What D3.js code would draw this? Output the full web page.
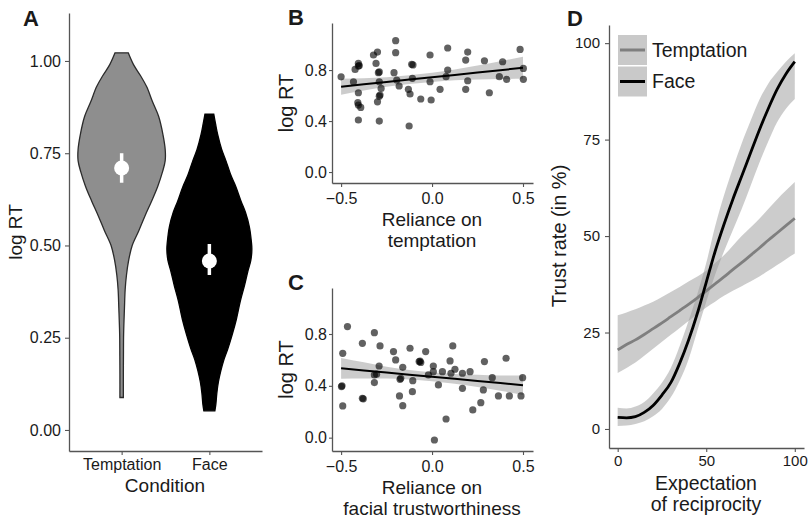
<!DOCTYPE html>
<html>
<head>
<meta charset="utf-8">
<script src="https://cdn.jsdelivr.net/npm/d3@7"></script>
<style>
  body { margin: 0; background: #fff; }
  svg { display: block; font-family: 'Liberation Sans', Arial, sans-serif; }
</style>
</head>
<body>
<svg id="fig" width="811" height="519"></svg>
<script>
// ---------- Panel A: log RT by condition (violins + mean with CI) ----------
const conditions = ["Temptation", "Face"];
const violinTemptationV = [1.022,0.99,0.96,0.93,0.89,0.85,0.80,0.76,0.73,0.70,0.66,0.62,0.58,0.54,0.50,0.46,0.42,0.38,0.33,0.26,0.20,0.15,0.088];
const violinTemptationD = [0.15,0.27,0.43,0.57,0.70,0.84,0.94,0.99,0.99,0.93,0.82,0.68,0.53,0.39,0.24,0.16,0.11,0.08,0.064,0.045,0.041,0.039,0.039];
const violinFaceV = [0.856,0.83,0.80,0.76,0.73,0.69,0.66,0.62,0.59,0.55,0.51,0.49,0.46,0.43,0.39,0.35,0.30,0.26,0.22,0.19,0.16,0.13,0.10,0.07,0.052];
const violinFaceD = [0.10,0.14,0.19,0.28,0.375,0.49,0.60,0.72,0.82,0.91,0.955,0.966,0.943,0.875,0.795,0.705,0.614,0.523,0.42,0.33,0.26,0.205,0.17,0.148,0.125];
const condMean = [0.71, 0.458];
const condLow  = [0.67, 0.42];
const condHigh = [0.75, 0.504];
const ticksA = [0, 0.25, 0.5, 0.75, 1.0];

// ---------- Panel B: log RT vs reliance on temptation ----------
const bX = [-0.50,-0.432,-0.423,-0.405,-0.40,-0.405,-0.405,-0.408,-0.405,-0.392,-0.405,-0.322,-0.30,-0.308,-0.295,-0.29,-0.29,-0.28,-0.286,-0.29,-0.30,-0.29,-0.20,-0.20,-0.209,-0.194,-0.181,-0.112,-0.105,-0.108,-0.13,-0.121,-0.126,-0.062,-0.011,-0.011,-0.005,0.044,0.086,0.086,0.077,0.185,0.196,0.196,0.185,0.288,0.315,0.388,0.37,0.41,0.484,0.502,0.502];
const bY = [0.747,0.708,0.805,0.852,0.835,0.831,0.622,0.544,0.525,0.507,0.408,0.918,0.941,0.852,0.779,0.785,0.708,0.656,0.604,0.595,0.551,0.40,1.03,0.936,0.779,0.722,0.675,0.845,0.84,0.735,0.649,0.612,0.361,0.573,0.918,0.708,0.565,0.649,0.973,0.80,0.748,0.878,0.941,0.716,0.649,0.873,0.622,0.865,0.748,0.727,0.962,0.813,0.727];
const bFitX  = [-0.5,-0.375,-0.25,-0.125,0,0.125,0.25,0.375,0.5];
const bFitY  = [0.669,0.688,0.706,0.725,0.743,0.762,0.781,0.799,0.818];
const bFitLo = [0.607,0.640,0.668,0.691,0.707,0.719,0.726,0.729,0.731];
const bFitHi = [0.731,0.736,0.744,0.759,0.779,0.805,0.836,0.869,0.905];
const ticksBCx = [-0.5, 0, 0.5];
const ticksBCy = [0, 0.4, 0.8];

// ---------- Panel C: log RT vs reliance on facial trustworthiness ----------
const cX = [-0.491,-0.498,-0.495,-0.491,-0.465,-0.383,-0.383,-0.378,-0.317,-0.286,-0.291,-0.317,-0.305,-0.317,-0.212,-0.20,-0.161,-0.172,-0.176,-0.179,-0.161,-0.121,-0.106,-0.108,-0.071,-0.062,-0.066,-0.035,-0.02,0.007,0.007,0.035,0.013,0.057,0.077,0.099,0.114,0.104,0.126,0.167,0.167,0.209,0.224,0.268,0.282,0.288,0.331,0.365,0.407,0.425,0.489,0.498];
const cY = [0.651,0.394,0.40,0.245,0.857,0.728,0.304,0.30,0.81,0.708,0.553,0.484,0.49,0.425,0.664,0.60,0.543,0.458,0.45,0.322,0.247,0.69,0.44,0.355,0.587,0.58,0.59,0.664,0.484,0.553,0.509,0.407,-0.018,0.509,0.144,0.592,0.708,0.497,0.528,0.497,0.381,0.509,0.214,0.27,0.368,0.587,0.463,0.322,0.613,0.322,0.322,0.463];
const cFitX  = [-0.5,-0.375,-0.25,-0.125,0,0.125,0.25,0.375,0.5];
const cFitY  = [0.535,0.519,0.502,0.486,0.47,0.454,0.438,0.421,0.405];
const cFitLo = [0.455,0.457,0.456,0.449,0.435,0.416,0.391,0.362,0.33];
const cFitHi = [0.615,0.581,0.548,0.523,0.505,0.492,0.485,0.48,0.48];

// ---------- Panel D: trust rate vs expectation of reciprocity ----------
const expX = [0,5,10,15,20,25,30,35,40,45,50,55,60,65,70,75,80,85,90,95,100];
const tempFit = [20.5,21.9,23.1,24.5,26,27.5,29.1,30.7,32.3,34,35.8,37.6,39.4,41.3,43.1,45,46.9,48.9,50.8,52.7,54.6];
const tempLo  = [14.5,15.8,17.2,19,20.8,22.6,24.4,26.2,28,29.8,31.5,33,34.5,35.8,37,38.2,39.5,41,42.5,44,45.5];
const tempHi  = [29.5,30.2,31,32,33,34.2,35.5,36.8,38.2,39.5,41,43,45,47.5,50,52.2,54.5,57,59.5,61.8,64];
const faceFit = [3.0,2.9,3.2,4.3,6.1,8.8,12,17,23,30,38,46,53,59.5,65.5,71.5,77.5,83,88,92,95.2];
const faceLo  = [0.8,0.9,1.3,2.0,3.3,5.2,8.2,12.5,18,25.5,33,40,46,51.5,57,63,69,74.5,79.5,83,85.5];
const faceHi  = [5.5,5.3,5.8,7.0,9.2,12,15.8,21.5,28,35,43,52.5,60.5,67.5,74,79.8,85.3,89.5,92.5,95.2,97.4];
const ticksDx = [0, 50, 100];
const ticksDy = [0, 25, 50, 75, 100];
const legendLabels = ["Temptation", "Face"];

// ---------- shared styling ----------
const FONT = "'Liberation Sans', Arial, sans-serif";
const AXIS_COL = "#555";
const TEXT_COL = "#1a1a1a";
const BAND_FILL = "#999";
const BAND_OP = 0.5;

const svg = d3.select("#fig");
svg.append("rect").attr("width", 811).attr("height", 519).attr("fill", "#fff");

function styleAxis(g, fontSize) {
  g.attr("color", AXIS_COL).attr("font-family", FONT).attr("font-size", fontSize);
  g.selectAll("path.domain").attr("stroke-width", 1.3);
  g.selectAll(".tick line").attr("stroke-width", 1.1);
  g.selectAll("text").attr("fill", TEXT_COL);
  return g;
}
function label(x, y, txt, size, opts = {}) {
  const t = svg.append("text").attr("x", x).attr("y", y).text(txt)
    .attr("font-size", size).attr("font-family", FONT).attr("fill", TEXT_COL)
    .attr("text-anchor", opts.anchor || "middle");
  if (opts.bold) t.attr("font-weight", "bold");
  if (opts.rotate) t.attr("transform", `rotate(-90,${x},${y})`);
  return t;
}

// =============== Panel A ===============
{
  const y = d3.scaleLinear().domain([-0.057, 1.130]).range([451, 13]);
  const x = d3.scalePoint().domain(conditions).range([69, 262]).padding(0.6);
  const w = d3.scaleLinear().domain([0, 1]).range([0, 44]);

  const violins = [
    { name: "Temptation", v: violinTemptationV, d: violinTemptationD, fill: "#8e8e8e", stroke: "#2b2b2b" },
    { name: "Face", v: violinFaceV, d: violinFaceD, fill: "#000", stroke: "#000" }
  ];
  violins.forEach(vl => {
    const cx = x(vl.name);
    const pts = vl.v.map((v, i) => ({ v, d: vl.d[i] }));
    const area = d3.area()
      .y(p => y(p.v))
      .x0(p => cx - w(p.d))
      .x1(p => cx + w(p.d))
      .curve(d3.curveCatmullRom.alpha(0.5));
    svg.append("path").attr("d", area(pts))
      .attr("fill", vl.fill).attr("stroke", vl.stroke).attr("stroke-width", 1.3);
  });

  conditions.forEach((c, i) => {
    svg.append("line").attr("x1", x(c)).attr("x2", x(c))
      .attr("y1", y(condLow[i])).attr("y2", y(condHigh[i]))
      .attr("stroke", "#fff").attr("stroke-width", 3.5);
    svg.append("circle").attr("cx", x(c)).attr("cy", y(condMean[i])).attr("r", 7.5).attr("fill", "#fff");
  });

  styleAxis(svg.append("g").attr("transform", "translate(69,0)")
    .call(d3.axisLeft(y).tickValues(ticksA).tickFormat(d3.format(".2f")).tickSize(4).tickSizeOuter(0).tickPadding(4)), 16);
  styleAxis(svg.append("g").attr("transform", "translate(0,451)")
    .call(d3.axisBottom(x).tickSize(4).tickSizeOuter(0).tickPadding(4)), 16);

  label(165, 492, "Condition", 19);
  label(22, 232, "log RT", 19, { rotate: true });
  label(23, 26, "A", 22, { anchor: "start", bold: true });
}

// =============== Panels B and C ===============
function scatterPanel(opts) {
  const x = d3.scaleLinear().domain([-0.55, 0.555]).range([332, 533]);
  const y = d3.scaleLinear().domain(opts.yDomain).range([opts.bottom, opts.top]);
  const fit = opts.fitX.map((fx, i) => ({ x: fx, y: opts.fitY[i], lo: opts.fitLo[i], hi: opts.fitHi[i] }));

  svg.append("path")
    .attr("d", d3.area().x(d => x(d.x)).y0(d => y(d.lo)).y1(d => y(d.hi)).curve(d3.curveMonotoneX)(fit))
    .attr("fill", BAND_FILL).attr("opacity", BAND_OP);

  svg.append("g").selectAll("circle")
    .data(opts.px.map((px, i) => ({ x: px, y: opts.py[i] })))
    .join("circle")
    .attr("cx", d => x(d.x)).attr("cy", d => y(d.y)).attr("r", 3.6)
    .attr("fill", "#000").attr("fill-opacity", 0.62);

  svg.append("path")
    .attr("d", d3.line().x(d => x(d.x)).y(d => y(d.y))(fit))
    .attr("fill", "none").attr("stroke", "#000").attr("stroke-width", 2);

  styleAxis(svg.append("g").attr("transform", "translate(332,0)")
    .call(d3.axisLeft(y).tickValues(ticksBCy).tickFormat(d3.format(".1f")).tickSize(3).tickSizeOuter(0).tickPadding(2)), 16);
  styleAxis(svg.append("g").attr("transform", `translate(0,${opts.bottom})`)
    .call(d3.axisBottom(x).tickValues(ticksBCx).tickFormat(d3.format(".1f")).tickSize(4).tickSizeOuter(0).tickPadding(6)), 16);

  label(432, opts.bottom + 43, "Reliance on", 19);
  label(432, opts.bottom + 64, opts.title2, 19);
  label(293, (opts.top + opts.bottom) / 2, "log RT", 20, { rotate: true });
  label(288, opts.top + 2, opts.letter, 22, { anchor: "start", bold: true });
}

scatterPanel({
  yDomain: [-0.086, 1.169], top: 23, bottom: 183,
  px: bX, py: bY, fitX: bFitX, fitY: bFitY, fitLo: bFitLo, fitHi: bFitHi,
  title2: "temptation", letter: "B"
});
scatterPanel({
  yDomain: [-0.103, 1.155], top: 288, bottom: 451,
  px: cX, py: cY, fitX: cFitX, fitY: cFitY, fitLo: cFitLo, fitHi: cFitHi,
  title2: "facial trustworthiness", letter: "C"
});

// =============== Panel D ===============
{
  const x = d3.scaleLinear().domain([-4.9, 105.2]).range([609, 804]);
  const y = d3.scaleLinear().domain([-4.93, 104.7]).range([448, 25]);

  const series = [
    { name: "Temptation", fit: tempFit, lo: tempLo, hi: tempHi, color: "#7f7f7f" },
    { name: "Face", fit: faceFit, lo: faceLo, hi: faceHi, color: "#000" }
  ];
  const band = d3.area().x(d => x(d.x)).y0(d => y(d.lo)).y1(d => y(d.hi)).curve(d3.curveMonotoneX);
  const line = d3.line().x(d => x(d.x)).y(d => y(d.y)).curve(d3.curveMonotoneX);

  series.forEach(s => {
    const pts = expX.map((ex, i) => ({ x: ex, lo: s.lo[i], hi: s.hi[i] }));
    svg.append("path").attr("d", band(pts)).attr("fill", BAND_FILL).attr("opacity", BAND_OP);
  });
  series.forEach(s => {
    const pts = expX.map((ex, i) => ({ x: ex, y: s.fit[i] }));
    svg.append("path").attr("d", line(pts)).attr("fill", "none")
      .attr("stroke", s.color).attr("stroke-width", 2.8);
  });

  styleAxis(svg.append("g").attr("transform", "translate(609,0)")
    .call(d3.axisLeft(y).tickValues(ticksDy).tickSize(4).tickSizeOuter(0).tickPadding(5)), 15);
  styleAxis(svg.append("g").attr("transform", "translate(0,448)")
    .call(d3.axisBottom(x).tickValues(ticksDx).tickSize(4).tickSizeOuter(0).tickPadding(3)), 15);

  // legend
  legendLabels.forEach((lab, i) => {
    const top = 35 + i * 31.5;
    svg.append("rect").attr("x", 618).attr("y", top).attr("width", 29).attr("height", 30)
      .attr("fill", "#c9c9c9");
    svg.append("line").attr("x1", 620).attr("x2", 645).attr("y1", top + 15).attr("y2", top + 15)
      .attr("stroke", series[i].color).attr("stroke-width", 3);
    label(652, top + 21.5, lab, 19.5, { anchor: "start" });
  });

  label(706, 490, "Expectation", 19.5);
  label(706, 511, "of reciprocity", 19.5);
  label(566, 236, "Trust rate (in %)", 20, { rotate: true });
  label(567, 26, "D", 22, { anchor: "start", bold: true });
}
</script>
</body>
</html>
